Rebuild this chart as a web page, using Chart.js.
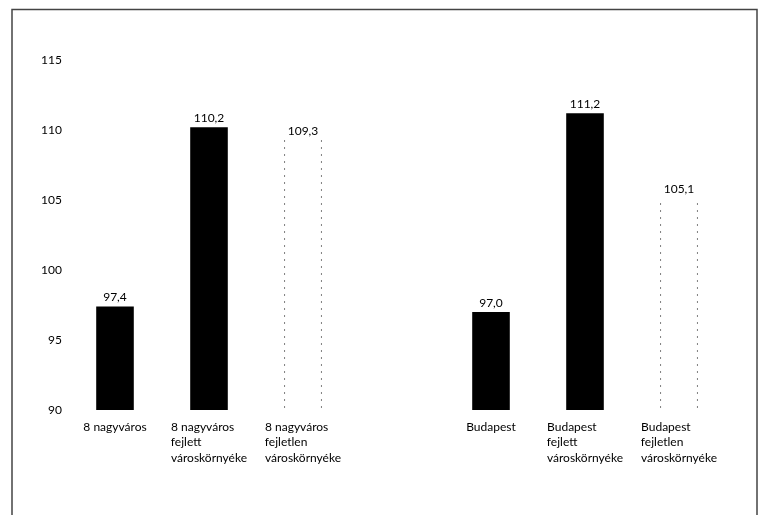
<!DOCTYPE html>
<html>
    <head>
        <meta charset="UTF-8"/>
        <title>Városkörnyékek</title>
        <script src="https://cdn.jsdelivr.net/npm/chart.js@4.4.0/dist/chart.umd.min.js"></script>
        <style>
            body{margin:0;background:#fff;}
            #wrap{width:764px;height:515px;position:relative;}
        </style>
    </head>
    <body>
        <div id="wrap"><canvas id="chart"></canvas></div>
        <script>
            // categories (lines of each axis label), empty slot = gap between the two groups
            const categories=[
                ['8 nagyváros'],
                ['8 nagyváros','fejlett','városkörnyéke'],
                ['8 nagyváros','fejletlen','városkörnyéke'],
                [''],
                ['Budapest'],
                ['Budapest','fejlett','városkörnyéke'],
                ['Budapest','fejletlen','városkörnyéke']
            ];
            const values=[97.4,110.2,109.3,null,97.0,111.2,105.1];
            const developed=[true,true,false,null,true,true,false];
            const yTicks=[90,95,100,105,110,115];

            const FONT='Lato';
            const measure=document.createElement('canvas').getContext('2d');
            measure.font='12px '+FONT;
            // lines of a label are left aligned inside a centred block
            function padLines(lines){
                const w=Math.max(...lines.map(l=>measure.measureText(l).width));
                return lines.map(l=>{
                    let s=l;
                    while(measure.measureText(s+'\u200A').width<=w+0.3) s+='\u200A';
                    return s;
                });
            }
            const labels=categories.map(padLines);

            // sparse dotted edge for the "fejletlen" bars
            const pc=document.createElement('canvas');
            pc.width=1;pc.height=7;
            const pctx=pc.getContext('2d');
            pctx.fillStyle='rgba(0,0,0,0.75)';
            pctx.fillRect(0,0,1,2);
            const dotted=pctx.createPattern(pc,'repeat');

            const frame={
                id:'frame',
                afterDraw(chart){
                    const c=chart.ctx;
                    c.save();
                    c.strokeStyle='#444';
                    c.lineWidth=1.5;
                    c.beginPath();
                    c.moveTo(12,520);c.lineTo(12,9.5);c.lineTo(757,9.5);c.lineTo(757,520);
                    c.stroke();
                    c.restore();
                }
            };
            const valueLabels={
                id:'valueLabels',
                afterDatasetsDraw(chart){
                    const c=chart.ctx;
                    const meta=chart.getDatasetMeta(0);
                    c.save();
                    c.font='12px '+FONT;
                    c.fillStyle='#000';
                    c.textAlign='center';
                    c.textBaseline='bottom';
                    meta.data.forEach((bar,i)=>{
                        if(values[i]==null) return;
                        c.fillText(values[i].toFixed(1).replace('.',','),bar.x,bar.y-3);
                    });
                    c.restore();
                }
            };

            new Chart(document.getElementById('chart'),{
                type:'bar',
                data:{
                    labels:labels,
                    datasets:[{
                        data:values,
                        backgroundColor:developed.map(d=>d?'#000':'#fff'),
                        borderColor:developed.map(d=>d?'#000':dotted),
                        borderWidth:developed.map(d=>d?0:{left:1,right:1,top:0,bottom:0}),
                        borderSkipped:false,
                        barPercentage:0.4,
                        categoryPercentage:1
                    }]
                },
                options:{
                    responsive:true,
                    maintainAspectRatio:false,
                    animation:false,
                    layout:{padding:{left:0,right:38,top:60,bottom:0}},
                    plugins:{legend:{display:false},tooltip:{enabled:false}},
                    scales:{
                        x:{
                            grid:{display:false,drawTicks:false},
                            border:{display:false},
                            ticks:{color:'#000',font:{family:FONT,size:12,lineHeight:1.3},padding:9,maxRotation:0,autoSkip:false},
                            afterFit(scale){scale.height=105;}
                        },
                        y:{
                            min:90,max:115,
                            afterBuildTicks(scale){scale.ticks=yTicks.map(v=>({value:v}));},
                            grid:{display:false,drawTicks:false},
                            border:{display:false},
                            ticks:{color:'#000',font:{family:FONT,size:12},padding:6},
                            afterFit(scale){scale.width=68;}
                        }
                    }
                },
                plugins:[frame,valueLabels]
            });
        </script>
    </body>
</html>
